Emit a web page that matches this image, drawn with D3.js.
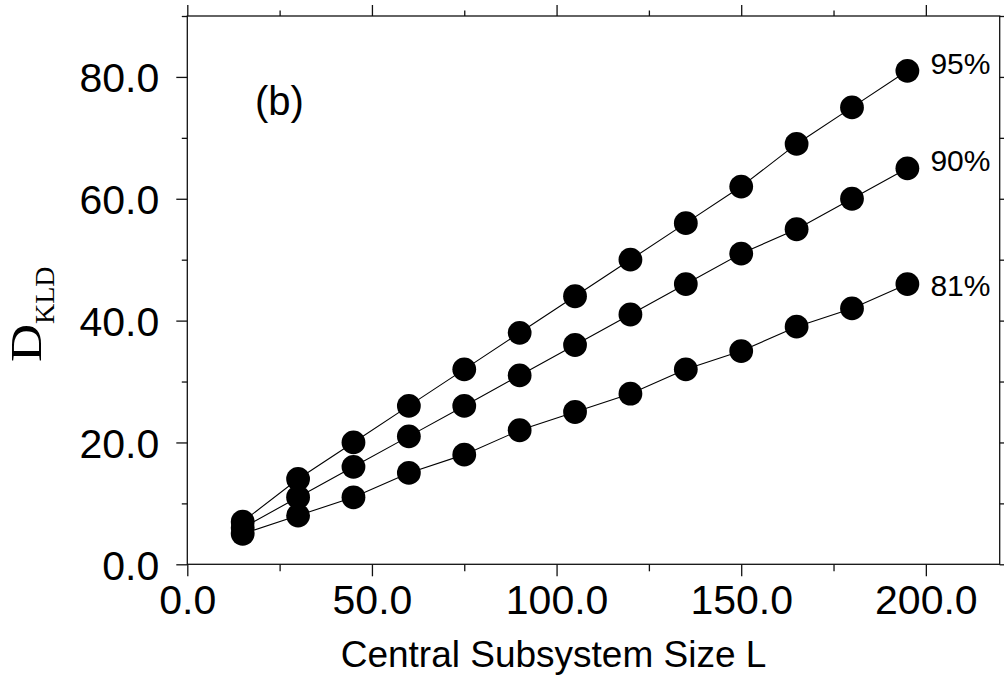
<!DOCTYPE html>
<html>
<head>
<meta charset="utf-8">
<script src="https://cdn.jsdelivr.net/npm/d3@7"></script>
<style>
  html, body { margin: 0; padding: 0; background: #fff; }
  svg { display: block; }
  text { fill: #000; }
</style>
</head>
<body>
<svg id="chart" width="1004" height="681"></svg>
<script>
// ---- data ----
const sizes = [15, 30, 45, 60, 75, 90, 105, 120, 135, 150, 165, 180, 195];
const d95 = [7, 14, 20, 26, 32, 38, 44, 50, 56, 62, 69, 75, 81];
const d90 = [6, 11, 16, 21, 26, 31, 36, 41, 46, 51, 55, 60, 65];
const d81 = [5, 8, 11, 15, 18, 22, 25, 28, 32, 35, 39, 42, 46];
const seriesNames = ["95%", "90%", "81%"];
const xMajorTicks = [0, 50, 100, 150, 200];
const xMinorTicks = [25, 75, 125, 175];
const yMajorTicks = [0, 20, 40, 60, 80];
const yMinorTicks = [10, 30, 50, 70, 90];
const xTitle = "Central Subsystem Size L";
const yTitleMain = "D";
const yTitleSub = "KLD";
const panelLabel = "(b)";

(function () {
const series = [
  { name: seriesNames[0], values: d95, dy: 3 },
  { name: seriesNames[1], values: d90, dy: 3 },
  { name: seriesNames[2], values: d81, dy: 12 }
];

// ---- layout ----
const pLeft = 187.3, pRight = 999.7, pTop = 16, pBottom = 564.3;
const x = d3.scaleLinear().domain([0, 220]).range([pLeft, pRight]);
const y = d3.scaleLinear().domain([0, 90]).range([pBottom, pTop]);

const svg = d3.select("#chart");
const fmt = d3.format(".1f");
const sans = "'Liberation Sans', Arial, Helvetica, sans-serif";
const serif = "'Liberation Serif', 'Times New Roman', serif";
const axisColor = "#111";

function styleAxis(g) {
  g.select(".domain").remove();
  g.selectAll(".tick line").attr("stroke", axisColor).attr("stroke-width", 1.3);
  g.selectAll("text").attr("font-family", sans).attr("fill", "#000");
}

// bottom axis
svg.append("g").attr("transform", `translate(0,${pBottom})`)
  .call(d3.axisBottom(x).tickValues(xMajorTicks).tickSize(12).tickPadding(9).tickFormat(fmt))
  .call(styleAxis)
  .call(g => g.selectAll("text").attr("font-size", 41));
svg.append("g").attr("transform", `translate(0,${pBottom})`)
  .call(d3.axisBottom(x).tickValues(xMinorTicks).tickSize(7).tickFormat(""))
  .call(styleAxis);

// top axis
svg.append("g").attr("transform", `translate(0,${pTop})`)
  .call(d3.axisTop(x).tickValues(xMajorTicks).tickSize(11).tickFormat(""))
  .call(styleAxis);
svg.append("g").attr("transform", `translate(0,${pTop})`)
  .call(d3.axisTop(x).tickValues(xMinorTicks).tickSize(5.5).tickFormat(""))
  .call(styleAxis);

// left axis
svg.append("g").attr("transform", `translate(${pLeft},0)`)
  .call(d3.axisLeft(y).tickValues(yMajorTicks).tickSize(11).tickPadding(17).tickFormat(fmt))
  .call(styleAxis)
  .call(g => g.selectAll("text").attr("font-size", 41).attr("dy", "0.36em"));
svg.append("g").attr("transform", `translate(${pLeft},0)`)
  .call(d3.axisLeft(y).tickValues(yMinorTicks).tickSize(5.5).tickFormat(""))
  .call(styleAxis);

// right axis
svg.append("g").attr("transform", `translate(${pRight},0)`)
  .call(d3.axisRight(y).tickValues(yMajorTicks).tickSize(11).tickFormat(""))
  .call(styleAxis);
svg.append("g").attr("transform", `translate(${pRight},0)`)
  .call(d3.axisRight(y).tickValues(yMinorTicks).tickSize(5.5).tickFormat(""))
  .call(styleAxis);

// frame
svg.append("rect")
  .attr("x", pLeft).attr("y", pTop)
  .attr("width", pRight - pLeft).attr("height", pBottom - pTop)
  .attr("fill", "none").attr("stroke", axisColor).attr("stroke-width", 1.3);

// lines
const line = d3.line().x((d, i) => x(sizes[i])).y(d => y(d));
series.forEach(s => {
  svg.append("path")
    .datum(s.values)
    .attr("d", line)
    .attr("fill", "none")
    .attr("stroke", "#000")
    .attr("stroke-width", 1.1);
});

// markers
series.forEach(s => {
  svg.append("g").selectAll("circle")
    .data(s.values)
    .join("circle")
    .attr("cx", (d, i) => x(sizes[i]))
    .attr("cy", d => y(d))
    .attr("r", 11.9)
    .attr("fill", "#000");
});

// series labels
series.forEach(s => {
  const last = s.values.length - 1;
  svg.append("text")
    .attr("x", x(sizes[last]) + 23)
    .attr("y", y(s.values[last]) + s.dy)
    .attr("font-family", sans)
    .attr("font-size", 30)
    .text(s.name);
});

// panel label
svg.append("text")
  .attr("x", 255).attr("y", 115)
  .attr("font-family", sans).attr("font-size", 40)
  .text(panelLabel);

// x title
svg.append("text")
  .attr("x", 553.5).attr("y", 667)
  .attr("text-anchor", "middle")
  .attr("font-family", sans).attr("font-size", 37)
  .text(xTitle);

// y title D_KLD
const yt = svg.append("g")
  .attr("transform", "translate(41,362) rotate(-90)");
yt.append("text")
  .attr("transform", "scale(1.2,1)")
  .attr("font-family", serif).attr("font-size", 44)
  .text(yTitleMain);
yt.append("text")
  .attr("x", 38).attr("y", 13)
  .attr("font-family", serif).attr("font-size", 28)
  .text(yTitleSub);
})();
</script>
</body>
</html>
